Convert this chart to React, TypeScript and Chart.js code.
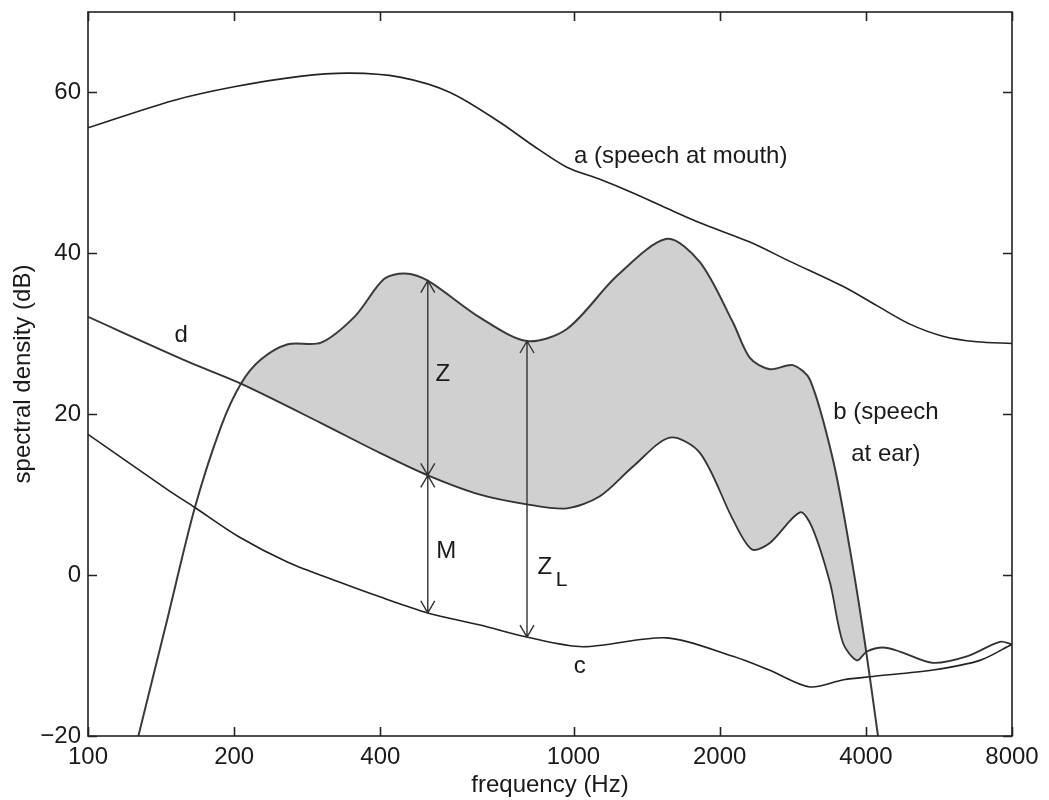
import { useEffect, useRef } from 'react';
import { Chart, registerables } from 'chart.js';

Chart.register(...registerables);

const FONT = '"Liberation Sans", Arial, Helvetica, sans-serif';

// Axis ticks
const xTickValues = [100, 200, 400, 1000, 2000, 4000, 8000];
const yTickValues = [-20, 0, 20, 40, 60];

// a: speech spectrum at the mouth
const aFreq = [100, 150, 200, 273, 346, 439, 557, 705, 825, 969, 1133, 1326, 1557, 1821, 2308, 2790, 3587, 4215, 4930, 5763, 6771, 8000];
const aLevel = [55.6, 59.0, 60.7, 62.0, 62.4, 61.9, 60.0, 56.3, 53.4, 50.7, 49.2, 47.5, 45.6, 43.8, 41.4, 39.0, 35.9, 33.5, 31.2, 29.7, 29.0, 28.8];

// b: speech spectrum at the ear
const bFreq = [127, 145.5, 166, 188, 206.5, 227, 258, 302, 355, 407, 449, 501, 642, 802, 969, 1229, 1557, 1821, 2130, 2308, 2537, 2830, 3068, 3421, 3709, 3982, 4237];
const bLevel = [-20, -5.6, 8.4, 18.5, 23.8, 26.8, 28.7, 28.9, 32.2, 36.8, 37.5, 36.6, 32.0, 29.1, 30.6, 37.2, 41.8, 38.9, 31.4, 27.0, 25.6, 26.1, 24.3, 14.4, 3.2, -8.4, -20];

// c: hearing threshold
const cFreq = [100, 146, 166, 204, 258, 327, 399, 501, 642, 802, 1046, 1557, 2130, 2530, 3068, 3600, 4136, 5497, 6870, 8000];
const cLevel = [17.5, 10.6, 8.4, 4.8, 1.6, -0.8, -2.7, -4.7, -6.2, -7.7, -8.9, -7.8, -10.1, -11.8, -13.9, -13.0, -12.6, -11.8, -10.6, -8.6];

// d: noise spectrum
const dFreq = [100, 161, 206.5, 302, 399, 501, 642, 802, 969, 1133, 1326, 1579, 1821, 2130, 2330, 2537, 2926, 3097, 3373, 3587, 3833, 4020, 4337, 4700, 5497, 6458, 7552, 8000];
const dLevel = [32.1, 26.5, 23.8, 18.9, 15.2, 12.4, 10.0, 8.8, 8.3, 9.8, 13.5, 17.1, 15.2, 6.9, 3.2, 4.0, 7.8, 6.0, -0.9, -8.4, -10.6, -9.5, -9.0, -9.5, -10.9, -10.1, -8.3, -8.6];

// Double-headed arrows: Z (noise to speech), M (threshold to noise), Z_L (threshold to speech)
const arrowFreq = [501, 501, 802];
const arrowLow = [12.4, -4.7, -7.7];
const arrowHigh = [36.6, 12.4, 29.1];

// Curve and arrow labels, anchored in data coordinates
const labelText = ['a (speech at mouth)', 'd', 'Z', 'M', 'c', 'b (speech', 'at ear)'];
const labelFreq = [1002, 155.5, 538, 547, 1030, 4399, 4399];
const labelLevel = [52.0, 29.8, 24.9, 2.9, -11.3, 20.2, 15.0];
const labelAlign: CanvasTextAlign[] = ['left', 'center', 'center', 'center', 'center', 'center', 'center'];

const toPoints = (f: number[], l: number[]) => f.map((x, i) => ({ x, y: l[i] }));

const overlay = {
  id: 'overlay',
  afterDatasetsDraw(chart: any) {
    const { ctx, chartArea } = chart;
    const xs = chart.scales.x;
    const ys = chart.scales.y;
    ctx.save();

    // frame with inward ticks on all four sides
    ctx.strokeStyle = '#222';
    ctx.lineWidth = 1.6;
    ctx.strokeRect(chartArea.left, chartArea.top, chartArea.right - chartArea.left, chartArea.bottom - chartArea.top);
    const tl = 9;
    ctx.beginPath();
    xTickValues.forEach((v) => {
      const px = Math.round(xs.getPixelForValue(v)) + 0.5;
      ctx.moveTo(px, chartArea.bottom);
      ctx.lineTo(px, chartArea.bottom - tl);
      ctx.moveTo(px, chartArea.top);
      ctx.lineTo(px, chartArea.top + tl);
    });
    yTickValues.forEach((v) => {
      const py = Math.round(ys.getPixelForValue(v)) + 0.5;
      ctx.moveTo(chartArea.left, py);
      ctx.lineTo(chartArea.left + tl, py);
      ctx.moveTo(chartArea.right, py);
      ctx.lineTo(chartArea.right - tl, py);
    });
    ctx.stroke();

    // arrows
    ctx.strokeStyle = '#333';
    ctx.lineWidth = 1.4;
    const head = (x: number, y: number, dir: number) => {
      ctx.moveTo(x - 7, y + dir * 12);
      ctx.lineTo(x, y);
      ctx.lineTo(x + 7, y + dir * 12);
    };
    arrowFreq.forEach((f, i) => {
      const x = xs.getPixelForValue(f);
      const y0 = ys.getPixelForValue(arrowLow[i]);
      const y1 = ys.getPixelForValue(arrowHigh[i]);
      ctx.beginPath();
      ctx.moveTo(x, y0);
      ctx.lineTo(x, y1);
      head(x, y1, 1);
      head(x, y0, -1);
      ctx.stroke();
    });

    // text labels
    ctx.fillStyle = '#1a1a1a';
    ctx.textBaseline = 'middle';
    ctx.font = `24px ${FONT}`;
    labelText.forEach((t, i) => {
      ctx.textAlign = labelAlign[i];
      ctx.fillText(t, xs.getPixelForValue(labelFreq[i]), ys.getPixelForValue(labelLevel[i]));
    });
    // Z with subscript L
    ctx.textAlign = 'center';
    ctx.fillText('Z', xs.getPixelForValue(873), ys.getPixelForValue(0.9));
    ctx.font = `21px ${FONT}`;
    ctx.fillText('L', xs.getPixelForValue(945), ys.getPixelForValue(-0.6));
    ctx.restore();
  },
};

export default function App() {
  const ref = useRef<HTMLCanvasElement>(null);

  useEffect(() => {
    document.body.style.margin = '0';
    const canvas = ref.current;
    if (!canvas) return;
    const lineBase = {
      borderWidth: 1.6,
      pointRadius: 0,
      tension: 0.3,
      fill: false,
    };
    const chart = new Chart(canvas, {
      type: 'line',
      data: {
        datasets: [
          { ...lineBase, label: 'a', data: toPoints(aFreq, aLevel), borderColor: '#222' },
          { ...lineBase, label: 'c', data: toPoints(cFreq, cLevel), borderColor: '#222' },
          { ...lineBase, label: 'd', data: toPoints(dFreq, dLevel), borderColor: '#333', borderWidth: 1.8 },
          {
            ...lineBase,
            label: 'b',
            data: toPoints(bFreq, bLevel),
            borderColor: '#3a3a3a',
            borderWidth: 2,
            fill: { target: 2, above: '#d0d0d0', below: 'rgba(0,0,0,0)' },
          },
        ],
      },
      plugins: [overlay],
      options: {
        responsive: false,
        animation: false,
        events: [],
        layout: { padding: { top: 12, right: 37, left: 9, bottom: 0 } },
        plugins: { legend: { display: false }, tooltip: { enabled: false } },
        scales: {
          x: {
            type: 'logarithmic',
            min: 100,
            max: 8000,
            grid: { display: false, drawTicks: false },
            border: { display: false },
            afterBuildTicks: (s: any) => {
              s.ticks = xTickValues.map((value) => ({ value }));
            },
            afterFit: (s: any) => {
              s.height = 64;
              s.paddingLeft = 0;
              s.paddingRight = 0;
            },
            ticks: {
              autoSkip: false,
              maxRotation: 0,
              padding: 7,
              color: '#1a1a1a',
              font: { family: FONT, size: 24 },
              callback: (v: any) => String(v),
            },
            title: { display: true, text: 'frequency (Hz)', color: '#1a1a1a', font: { family: FONT, size: 24 }, padding: 0 },
          },
          y: {
            min: -20,
            max: 70,
            grid: { display: false, drawTicks: false },
            border: { display: false },
            afterBuildTicks: (s: any) => {
              s.ticks = yTickValues.map((value) => ({ value }));
            },
            afterFit: (s: any) => {
              s.width = 79;
              s.paddingTop = 0;
              s.paddingBottom = 0;
            },
            ticks: {
              padding: 7,
              color: '#1a1a1a',
              font: { family: FONT, size: 24 },
              callback: (v: any) => (Number(v) < 0 ? '\u2212' + Math.abs(Number(v)) : String(v)),
            },
            title: { display: true, text: 'spectral density (dB)', color: '#1a1a1a', font: { family: FONT, size: 24 }, padding: 0 },
          },
        },
      },
    });
    return () => chart.destroy();
  }, []);

  return (
    <div style={{ width: 1049, height: 800, background: '#fff' }}>
      <canvas ref={ref} width={1049} height={800} />
    </div>
  );
}
